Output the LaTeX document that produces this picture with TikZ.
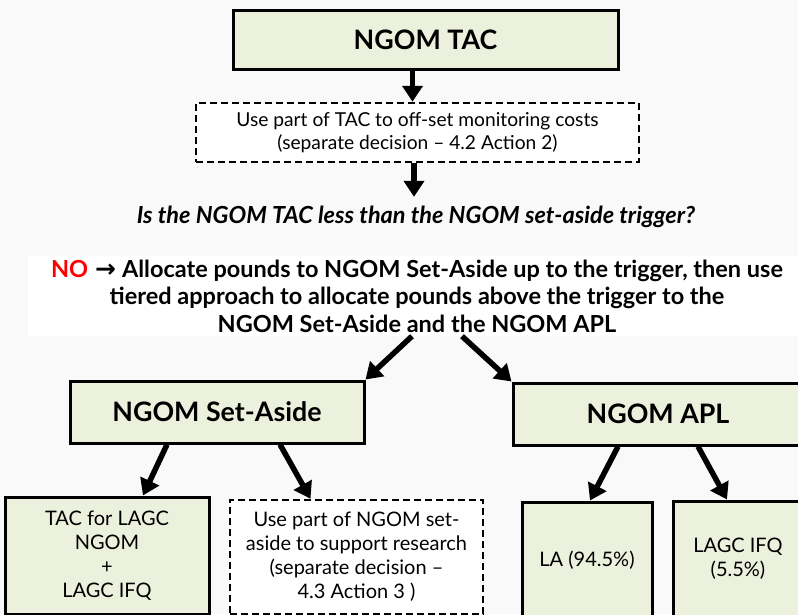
\documentclass[tikz,border=0pt]{standalone}
\usepackage{fontspec}
\setmainfont{Lato}
\newfontfamily\symfont{DejaVu Sans}
\usetikzlibrary{arrows.meta}
\definecolor{boxfill}{RGB}{236,241,221}
\definecolor{nored}{RGB}{255,0,0}
\definecolor{pagebg}{RGB}{249,249,249}

\tikzset{
  solidbox/.style={draw=black, line width=3pt, fill=boxfill, inner sep=0pt, align=center},
  dashbox/.style={draw=black, line width=2.5pt, dash pattern=on 7pt off 4pt, fill=white, inner sep=0pt, align=center},
  arr/.style={line width=5.5pt, -{Triangle[width=20pt,length=16pt]}},
  headtext/.style={font=\fontsize{26.8}{30}\selectfont\bfseries},
  bodytext/.style={font=\fontsize{20}{24}\selectfont},
}

\begin{document}
\begin{tikzpicture}[x=1pt,y=-1pt]
\clip (0,0) rectangle (798,614);
\fill[pagebg] (0,0) rectangle (798,614);

% top of the chain
\node[solidbox, headtext, minimum width=385pt, minimum height=59pt] (tac) at (425.5,39.5) {NGOM TAC};
\node[dashbox, font=\fontsize{19.2}{23}\selectfont, minimum width=443pt, minimum height=59pt] (mon) at (417.5,132.5)
  {Use part of TAC to off-set monitoring costs\\(separate decision -- 4.2 Action 2)};
\node[font=\fontsize{23.5}{26}\selectfont\bfseries\itshape, inner sep=0pt,
      text height=17pt, text depth=5pt] (q) at (416,217)
  {Is the NGOM TAC less than the NGOM set-aside trigger?};

% decision text
\node[fill=white, inner sep=0pt, minimum width=778pt, minimum height=80pt, align=center,
      font=\fontsize{23.5}{27.5}\selectfont\bfseries] (no) at (417,296)
  {{\color{nored}NO}\hspace{0.3em}{\symfont\bfseries\fontsize{25}{25}\selectfont →}\hspace{0.25em}Allocate pounds to NGOM Set-Aside up to the trigger, then use\\
   tiered approach to allocate pounds above the trigger to the\\
   NGOM Set-Aside and the NGOM APL};

% second level
\node[solidbox, headtext, minimum width=294pt, minimum height=62pt] (sa) at (217,412) {NGOM Set-Aside};
\node[solidbox, headtext, minimum width=290pt, minimum height=62pt] (apl) at (658,414) {NGOM APL};

% third level
\node[solidbox, bodytext, minimum width=204pt, minimum height=117pt] (lagc) at (107,555.5)
  {TAC for LAGC\\NGOM\\+\\LAGC IFQ};
\node[dashbox, bodytext, minimum width=253pt, minimum height=114pt] (res) at (356.5,557)
  {Use part of NGOM set-\\aside to support research\\(separate decision --\\4.3 Action 3 )};
\node[solidbox, bodytext, minimum width=130pt, minimum height=116pt] (la) at (587,560) {LA (94.5\%)};
\node[solidbox, bodytext, minimum width=130pt, minimum height=116pt] (ifq) at (738,559) {LAGC IFQ\\(5.5\%)};

% connectors
\draw[arr] ([xshift=-13pt]tac.south) -- ([xshift=-5pt]mon.north);
\draw[arr] ([xshift=-3.5pt]mon.south) -- ([xshift=-2pt,yshift=9pt]q.north);
\draw[arr] ([xshift=-5pt]no.south) -- (sa.north east);
\draw[arr] ([xshift=45pt]no.south) -- (apl.north west);
\draw[arr] ([xshift=-50pt]sa.south) -- ([xshift=36pt]lagc.north);
\draw[arr] ([xshift=63pt]sa.south) -- ([xshift=-46pt]res.north);
\draw[arr] ([xshift=-40pt]apl.south) -- ([xshift=3pt]la.north);
\draw[arr] ([xshift=40pt]apl.south) -- ([xshift=-11pt]ifq.north);
\end{tikzpicture}
\end{document}
